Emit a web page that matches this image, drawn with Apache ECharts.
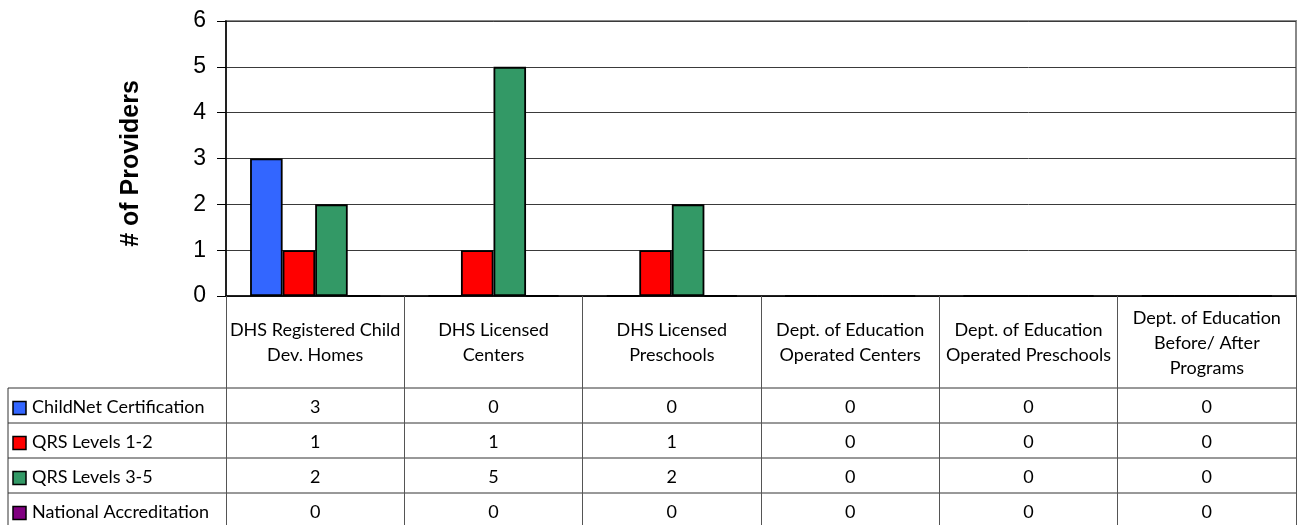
<!DOCTYPE html>
<html>
<head>
<meta charset="utf-8">
<script src="https://cdn.jsdelivr.net/npm/echarts@6/dist/echarts.min.js"></script>
<style>
html, body { margin: 0; padding: 0; background: #fff; }
#main { width: 1301px; height: 525px; }
</style>
</head>
<body>
<div id="main"></div>
<script>
// 数据
const categories = [
    'DHS Registered Child\nDev. Homes',
    'DHS Licensed\nCenters',
    'DHS Licensed\nPreschools',
    'Dept. of Education\nOperated Centers',
    'Dept. of Education\nOperated Preschools',
    'Dept. of Education\nBefore/ After\nPrograms'
];
const seriesNames = ['ChildNet Certification', 'QRS Levels 1-2', 'QRS Levels 3-5', 'National Accreditation'];
const childNet = [3, 0, 0, 0, 0, 0];
const qrs12 = [1, 1, 1, 0, 0, 0];
const qrs35 = [2, 5, 2, 0, 0, 0];
const nationalAcc = [0, 0, 0, 0, 0, 0];
const yMin = 0, yMax = 6, yStep = 1;
const colors = ['#3366FF', '#FF0000', '#339966', '#800080'];

const allValues = [childNet, qrs12, qrs35, nationalAcc];
const tableFont = 'Lato, "Open Sans", sans-serif';
const headerH = 92;
const rowH = 35;
const keyLeft = 8;

var chartDom = document.getElementById('main');
var myChart = echarts.init(chartDom);
var option = {
    animation: false,
    grid: {
        left: 226,
        right: 5,
        top: 21,
        bottom: 229,
        show: true,
        borderColor: '#888',
        borderWidth: 2
    },
    xAxis: {
        type: 'category',
        data: categories,
        axisLine: { lineStyle: { color: '#000', width: 1.5 } },
        axisTick: { show: true, interval: 0, length: 232, lineStyle: { color: '#555', width: 1 } },
        axisLabel: {
            interval: 0,
            margin: 47,
            verticalAlign: 'middle',
            lineHeight: 25,
            fontFamily: tableFont,
            fontSize: 18,
            color: '#000'
        },
        splitLine: { show: false }
    },
    yAxis: {
        type: 'value',
        min: yMin,
        max: yMax,
        interval: yStep,
        name: '# of Providers',
        nameLocation: 'middle',
        nameRotate: 90,
        nameGap: 82,
        nameTextStyle: {
            fontFamily: '"Liberation Sans", Arial',
            fontWeight: 'bold',
            fontSize: 25,
            color: '#000',
            padding: [0, 10, 0, 0]
        },
        axisLine: { show: true, lineStyle: { color: '#000', width: 1.5 } },
        axisTick: { show: true, length: 9, lineStyle: { color: '#000', width: 1 } },
        axisLabel: { margin: 20, fontFamily: '"Liberation Sans", Arial', fontSize: 23, color: '#000' },
        splitLine: { lineStyle: { color: '#3a3a3a', width: 1 } }
    },
    series: seriesNames.map((name, i) => ({
        name: name,
        type: 'bar',
        data: allValues[i],
        barGap: 0,
        barCategoryGap: '27%',
        itemStyle: { color: colors[i], borderColor: '#000', borderWidth: 1.8 }
    }))
};
myChart.setOption(option);

// 数据表
function drawTable() {
    const centers = categories.map((c, i) => myChart.convertToPixel({ xAxisIndex: 0 }, i));
    const band = centers[1] - centers[0];
    const right = centers[centers.length - 1] + band / 2;
    const axisY = myChart.convertToPixel({ yAxisIndex: 0 }, 0);
    const top = axisY + headerH;
    const els = [];
    for (let k = 0; k <= seriesNames.length; k++) {
        els.push({
            type: 'line',
            shape: { x1: keyLeft, y1: top + k * rowH, x2: right, y2: top + k * rowH },
            style: { stroke: '#333', lineWidth: 1 }
        });
    }
    els.push({
        type: 'line',
        shape: { x1: keyLeft, y1: top, x2: keyLeft, y2: top + seriesNames.length * rowH },
        style: { stroke: '#333', lineWidth: 1 }
    });
    seriesNames.forEach((name, r) => {
        const yc = top + r * rowH + rowH / 2 + 2;
        els.push({
            type: 'rect',
            shape: { x: 13, y: yc - 6, width: 13, height: 13 },
            style: { fill: colors[r], stroke: '#000', lineWidth: 1.5 }
        });
        els.push({
            type: 'text',
            x: 32, y: yc,
            style: { text: name, font: '18px ' + tableFont, fill: '#000', textAlign: 'left', textVerticalAlign: 'middle', align: 'left', verticalAlign: 'middle' }
        });
        allValues[r].forEach((v, i) => {
            els.push({
                type: 'text',
                x: centers[i], y: yc,
                style: { text: String(v), font: '18px ' + tableFont, fill: '#000', textAlign: 'center', textVerticalAlign: 'middle', align: 'center', verticalAlign: 'middle' }
            });
        });
    });
    myChart.setOption({ graphic: { elements: els } });
}
drawTable();
</script>
</body>
</html>
